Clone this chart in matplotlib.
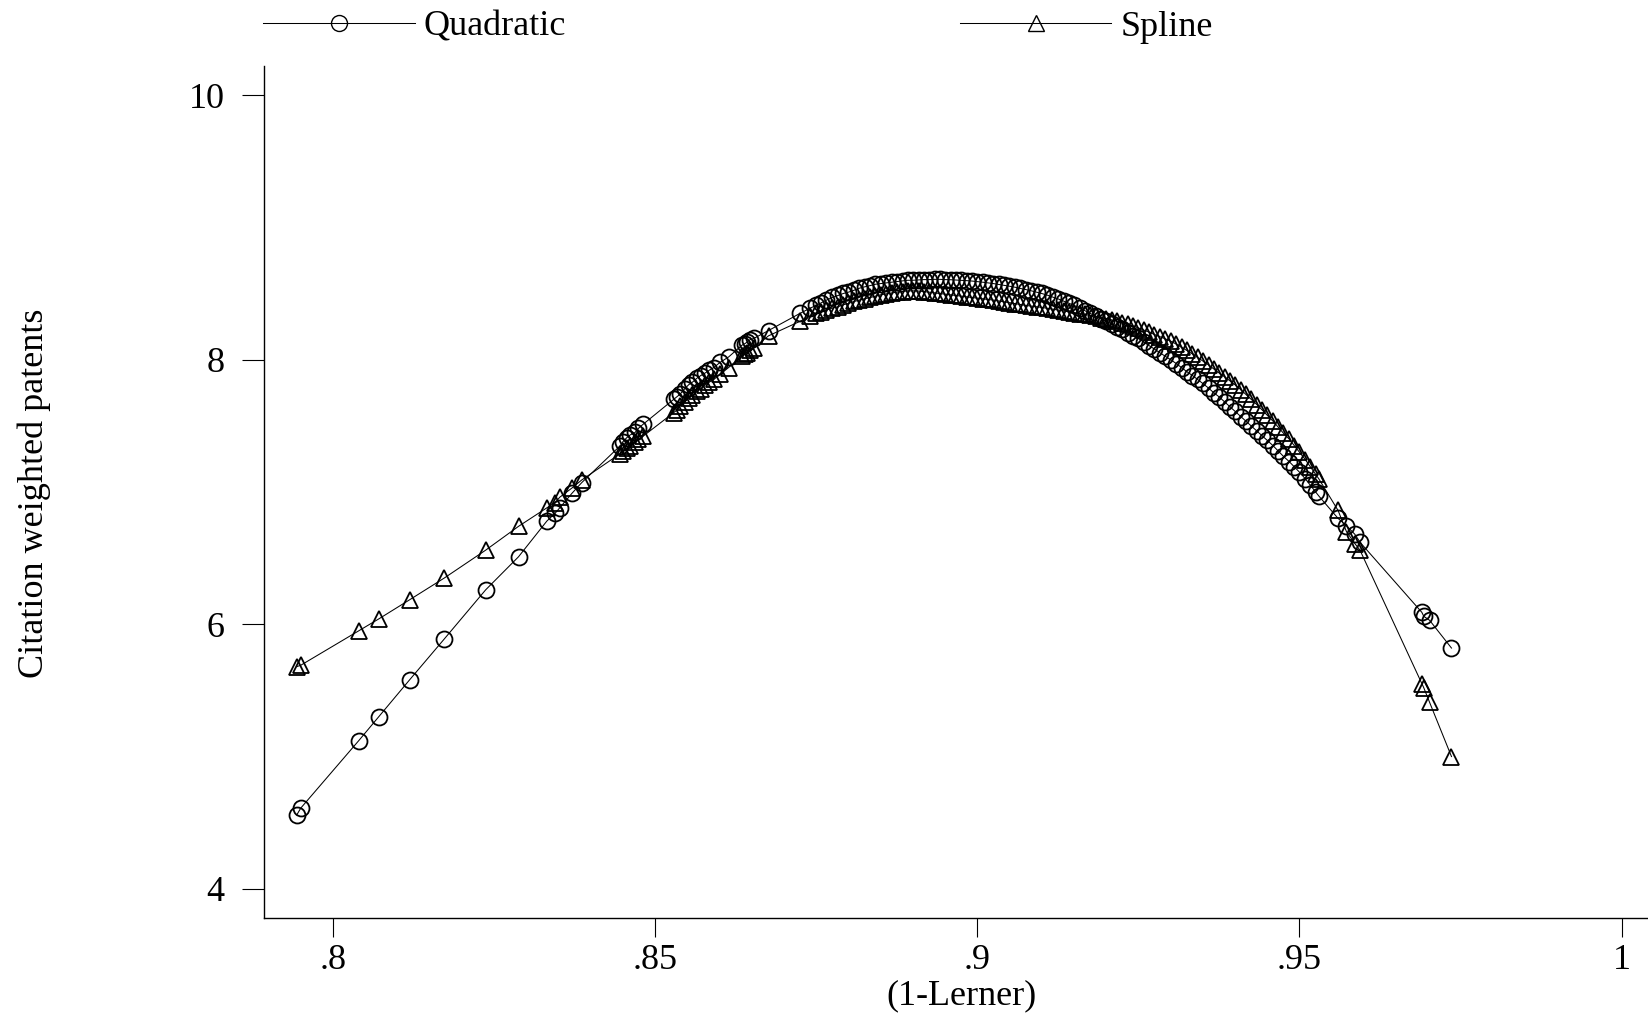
import matplotlib
matplotlib.use("Agg")
import matplotlib.pyplot as plt

# (1-Lerner) values, shared by both fits
lerner = [
    0.7944, 0.7950, 0.8040, 0.8071, 0.8119, 0.8173, 0.8237, 0.8288, 0.8332, 0.8345,
    0.8352, 0.8371, 0.8386,
    0.8446, 0.8450, 0.8456, 0.8461, 0.8469, 0.8474, 0.8481,
    0.8529, 0.8534, 0.8539, 0.8546, 0.8552, 0.8558, 0.8565, 0.8571, 0.8578, 0.8584,
    0.8591, 0.8601, 0.8614,
    0.8635, 0.8639, 0.8642, 0.8647, 0.8653, 0.8676,
    0.8725, 0.8741, 0.8750, 0.8758, 0.8766, 0.8775, 0.8784, 0.8792, 0.8800, 0.8809,
    0.8817, 0.8825, 0.8834, 0.8842, 0.8850, 0.8859, 0.8867, 0.8875, 0.8884, 0.8892,
    0.8900, 0.8909, 0.8917, 0.8925, 0.8934, 0.8942, 0.8950, 0.8959, 0.8967, 0.8975,
    0.8984, 0.8992, 0.9000, 0.9009, 0.9017, 0.9025, 0.9034, 0.9042, 0.9050, 0.9059,
    0.9067, 0.9075, 0.9084, 0.9092, 0.9100, 0.9109, 0.9117, 0.9125, 0.9134, 0.9142,
    0.9150, 0.9159, 0.9167, 0.9175, 0.9184, 0.9192, 0.9200, 0.9209, 0.9217, 0.9225,
    0.9234, 0.9242, 0.9250, 0.9259, 0.9267, 0.9275, 0.9284, 0.9292, 0.9300, 0.9309,
    0.9317, 0.9325, 0.9334, 0.9342, 0.9350, 0.9359, 0.9367, 0.9375, 0.9384, 0.9392,
    0.9400, 0.9409, 0.9417, 0.9425, 0.9434, 0.9442, 0.9450, 0.9459, 0.9467, 0.9475,
    0.9484, 0.9492, 0.9500, 0.9509, 0.9517, 0.9525, 0.9530,
    0.9560, 0.9573, 0.9586, 0.9594, 0.9690, 0.9693, 0.9702, 0.9736,
]

quadratic = [
    4.56, 4.61, 5.12, 5.30, 5.58, 5.89, 6.26, 6.51, 6.78, 6.84,
    6.88, 6.99, 7.07,
    7.35, 7.38, 7.41, 7.43, 7.45, 7.48, 7.51,
    7.70, 7.72, 7.74, 7.78, 7.81, 7.83, 7.86, 7.88, 7.90, 7.92,
    7.94, 7.98, 8.02,
    8.11, 8.12, 8.13, 8.15, 8.16, 8.22,
    8.35, 8.39, 8.41, 8.43, 8.45, 8.47, 8.485, 8.50, 8.51, 8.525,
    8.54, 8.55, 8.56, 8.57, 8.575, 8.58, 8.585, 8.59, 8.595, 8.60,
    8.60, 8.603, 8.605, 8.605, 8.607, 8.607, 8.605, 8.604, 8.602, 8.60,
    8.597, 8.594, 8.59, 8.585, 8.58, 8.575, 8.568, 8.562, 8.555, 8.547,
    8.538, 8.53, 8.52, 8.51, 8.50, 8.487, 8.473, 8.46, 8.443, 8.427,
    8.41, 8.39, 8.37, 8.35, 8.33, 8.31, 8.29, 8.27, 8.25, 8.23,
    8.205, 8.18, 8.16, 8.13, 8.105, 8.08, 8.05, 8.025, 8.00, 7.97,
    7.94, 7.91, 7.88, 7.85, 7.82, 7.785, 7.75, 7.72, 7.68, 7.645,
    7.61, 7.57, 7.535, 7.50, 7.46, 7.425, 7.39, 7.35, 7.31, 7.27,
    7.23, 7.19, 7.15, 7.10, 7.05, 7.00, 6.97,
    6.80, 6.745, 6.68, 6.62, 6.09, 6.06, 6.03, 5.82,
]

spline = [
    5.68, 5.69, 5.95, 6.04, 6.185, 6.35, 6.56, 6.74, 6.88, 6.92,
    6.96, 7.03, 7.09,
    7.29, 7.31, 7.33, 7.35, 7.38, 7.40, 7.42,
    7.60, 7.62, 7.65, 7.68, 7.71, 7.73, 7.76, 7.78, 7.81, 7.83,
    7.85, 7.89, 7.94,
    8.03, 8.04, 8.05, 8.07, 8.09, 8.18,
    8.29, 8.33, 8.35, 8.36, 8.375, 8.39, 8.40, 8.415, 8.425, 8.44,
    8.45, 8.46, 8.47, 8.48, 8.49, 8.497, 8.503, 8.51, 8.515, 8.52,
    8.52, 8.518, 8.515, 8.51, 8.505, 8.50, 8.495, 8.49, 8.485, 8.48,
    8.475, 8.47, 8.465, 8.46, 8.455, 8.45, 8.443, 8.437, 8.43, 8.423,
    8.417, 8.41, 8.405, 8.40, 8.395, 8.388, 8.382, 8.375, 8.368, 8.362,
    8.355, 8.348, 8.342, 8.335, 8.327, 8.318, 8.31, 8.30, 8.29, 8.28,
    8.267, 8.254, 8.24, 8.223, 8.207, 8.19, 8.173, 8.157, 8.14, 8.117,
    8.093, 8.07, 8.043, 8.017, 7.99, 7.96, 7.93, 7.90, 7.87, 7.84,
    7.81, 7.773, 7.737, 7.70, 7.66, 7.62, 7.58, 7.535, 7.49, 7.445,
    7.40, 7.35, 7.30, 7.245, 7.19, 7.135, 7.10,
    6.86, 6.70, 6.61, 6.56, 5.55, 5.52, 5.41, 5.00,
]

x_ticks = [0.8, 0.85, 0.9, 0.95, 1.0]
x_ticklabels = [".8", ".85", ".9", ".95", "1"]
y_ticks = [4, 6, 8, 10]

plt.rcParams["font.family"] = ["Liberation Serif", "DejaVu Serif"]
plt.rcParams["font.size"] = 26

fig = plt.figure(figsize=(16.48, 10.16), dpi=100)
ax = fig.add_axes([0.1602, 0.0965, 0.8398, 0.8386])

style = dict(color="black", lw=0.75, mfc="none", mec="black", mew=1.3)
ax.plot(lerner, quadratic, marker="o", ms=11.5, label="Quadratic", **style)
ax.plot(lerner, spline, marker="^", ms=12, label="Spline", **style)

ax.set_xlim(0.7893, 1.0041)
ax.set_ylim(3.78, 10.22)
ax.set_xticks(x_ticks)
ax.set_xticklabels(x_ticklabels)
ax.set_yticks(y_ticks)

for side in ["top", "right"]:
    ax.spines[side].set_visible(False)
for side in ["left", "bottom"]:
    ax.spines[side].set_linewidth(1.0)
ax.tick_params(axis="x", length=13.5, width=0.8, pad=5.5, labelsize=26)
ax.tick_params(axis="y", length=15.5, width=0.8, pad=13, labelsize=26)

fig.text(34.5 / 1648, 1 - 493 / 1016, "Citation weighted patents",
         rotation=90, ha="center", va="center", fontsize=26)
fig.text(962 / 1648, 1 - 996 / 1016, "(1-Lerner)", ha="center", va="center", fontsize=26)

leg = fig.legend(loc="center left", bbox_to_anchor=(263 / 1648, 1 - 27 / 1016), ncol=2,
                 frameon=False, borderpad=0, borderaxespad=0, handlelength=4.2,
                 handletextpad=0.25, columnspacing=10.9, numpoints=1, fontsize=26)
for h in leg.legend_handles:
    h.set_markeredgewidth(1.0)

fig.savefig("out.png", dpi=100)
